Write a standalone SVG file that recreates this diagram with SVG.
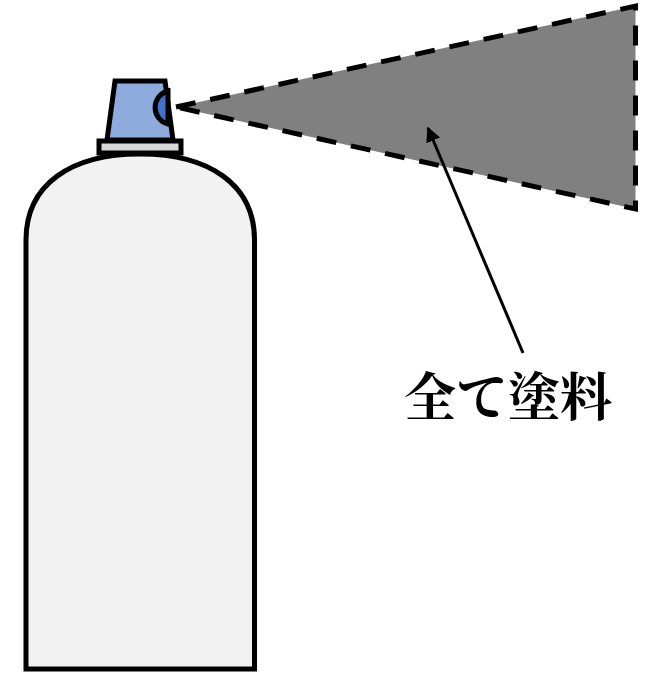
<svg xmlns="http://www.w3.org/2000/svg" width="646" height="673" viewBox="0 0 646 673">
  <style>
    .outline { stroke: #000; stroke-width: 5; stroke-linejoin: miter; }
    .label { font-family: "Noto Serif CJK JP", "Noto Sans CJK JP", serif; font-size: 52px; font-weight: bold; fill: #000; }
  </style>
  <defs>
    <marker id="arrowhead" viewBox="0 0 10 10" refX="9" refY="5" markerWidth="5" markerHeight="5" orient="auto" markerUnits="strokeWidth">
      <path d="M0,0 L10,5 L0,10 Z" fill="#000"/>
    </marker>
  </defs>

  <!-- spray cone -->
  <g id="spray">
    <polygon points="176,107 635.5,6 635.5,209" fill="#808080" stroke="#000" stroke-width="5" stroke-dasharray="20 15"/>
  </g>

  <!-- can body -->
  <g id="can-body">
    <path class="outline" fill="#F2F2F2" d="M26,669 V240 C26,185 70,154 140,154 C210,154 254.5,185 254.5,240 V669 Z"/>
  </g>

  <!-- collar under the nozzle -->
  <g id="collar">
    <rect class="outline" x="99" y="141" width="82" height="12" fill="#D9D9D9"/>
  </g>

  <!-- nozzle cap -->
  <g id="nozzle">
    <polygon class="outline" points="115,81 165,81 173,140 107,140" fill="#8FAADC"/>
    <path class="outline" d="M168,91 A17,17 0 0 0 168,124 Z" fill="#4472C4" stroke-width="4"/>
  </g>

  <!-- pointer to the spray -->
  <g id="connectors">
    <line x1="523" y1="353" x2="428" y2="128" stroke="#000" stroke-width="3" marker-end="url(#arrowhead)"/>
  </g>

  <g id="paint-label">
    <text class="label" x="404" y="416">全て塗料</text>
  </g>
</svg>
